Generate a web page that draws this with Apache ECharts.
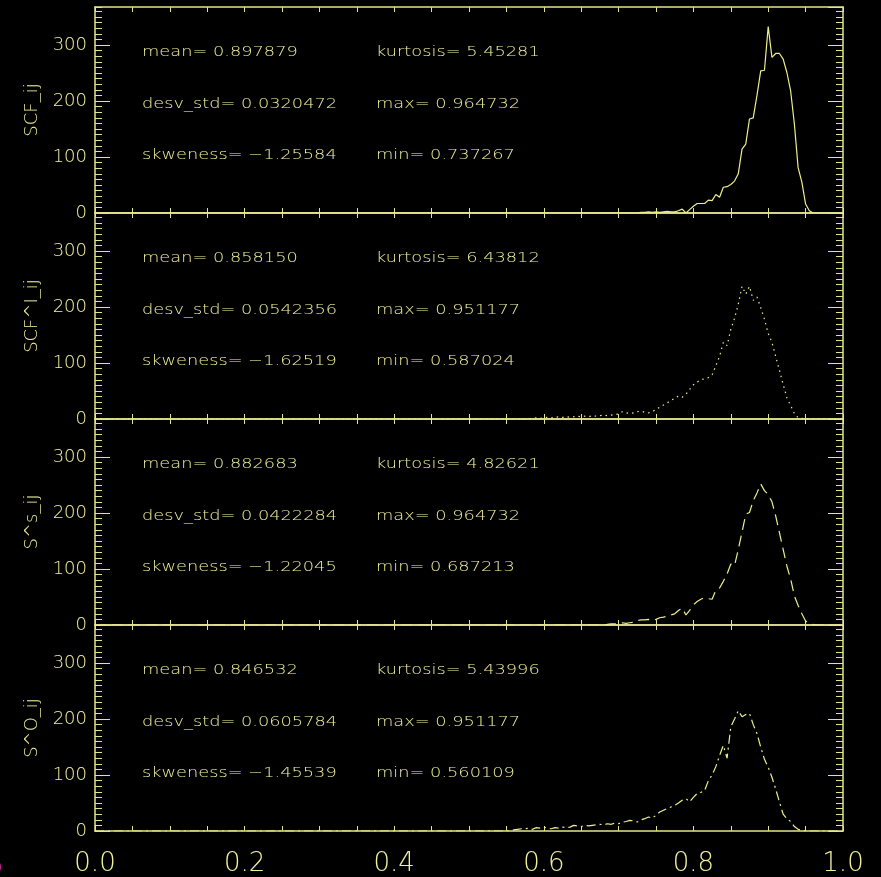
<!DOCTYPE html>
<html>
<head>
<meta charset="utf-8">
<script src="https://cdn.jsdelivr.net/npm/echarts@6/dist/echarts.min.js"></script>
<style>
html,body{margin:0;padding:0;background:#000;}
#c{width:881px;height:877px;}
</style>
</head>
<body>
<div id="c"></div>
<script>
// ---------------- data ----------------
const binStep = 0.005;
const xTickLabels = ['0.0','0.2','0.4','0.6','0.8','1.0'];
const yTickLabels = ['0','100','200','300'];
const panelNames = ['SCF_ij', 'SCF^I_ij', 'S^s_ij', 'S^O_ij'];

// histogram counts, first value at the given start bin, step 0.005
const scfStart = 0.725;
const scfCounts = [0,1,1,2,1,2,1,2,3,2,2,4,7,0,6,12,17,17,17,23,22,33,28,46,47,51,57,70,114,123,168,170,210,254,255,333,278,285,285,275,251,218,159,81,55,16,4,0];

const scfIStart = 0.58;
const scfICounts = [0,1,2,1,2,3,2,3,4,3,4,3,4,5,4,5,4,6,5,6,7,6,7,8,9,13,11,10,11,13,14,12,11,13,17,21,25,29,33,37,41,39,44,53,61,66,70,72,74,79,95,112,137,131,160,180,205,237,223,237,212,218,199,178,153,137,112,87,62,38,24,10,2,1,0];

const ssStart = 0.68;
const ssCounts = [0,1,2,2,3,4,3,4,5,8,9,9,10,8,10,13,14,16,18,20,26,30,18,26,36,42,46,49,47,46,62,66,78,91,109,106,135,166,198,201,222,236,252,240,233,220,195,165,135,105,82,52,35,20,7,3,1,0];

const soStart = 0.555;
const soCounts = [0,2,3,4,4,5,3,6,5,7,5,4,6,5,7,6,7,10,9,8,10,9,10,11,12,11,13,12,14,13,16,17,19,18,16,20,22,25,23,28,34,37,40,43,46,50,55,58,52,60,67,69,72,90,100,115,135,153,130,186,200,215,204,208,210,190,174,150,128,114,96,75,52,30,22,17,8,3,1,0];

const statMean = ['0.897879','0.858150','0.882683','0.846532'];
const statStd  = ['0.0320472','0.0542356','0.0422284','0.0605784'];
const statSkew = ['\u22121.25584','\u22121.62519','\u22121.22045','\u22121.45539'];
const statKurt = ['5.45281','6.43812','4.82621','5.43996'];
const statMax  = ['0.964732','0.951177','0.964732','0.951177'];
const statMin  = ['0.737267','0.587024','0.687213','0.560109'];

// ---------------- chart ----------------
const FG = '#e4e48e';
const TXT = '#f2f29c';
const LINE = '#eeee8a';
const FONT = 'DejaVu Sans';
const FW = 200;
const gridLeft = 95, gridW = 748, gridTop0 = 7, gridH = 206;

function toPairs(start, counts) {
  const pts = [[0, 0]];
  counts.forEach((c, i) => pts.push([+(start + i * binStep).toFixed(3), c]));
  pts.push([1, 0]);
  return pts;
}
const seriesData = [
  toPairs(scfStart, scfCounts),
  toPairs(scfIStart, scfICounts),
  toPairs(ssStart, ssCounts),
  toPairs(soStart, soCounts)
];
const lineTypes = ['solid', [1.5, 4], [11, 6], [9, 4, 2, 4]];

const grids = [], xAxes = [], yAxes = [], series = [], graphics = [];
const YMAX = 368;

for (let p = 0; p < 4; p++) {
  grids.push({left: gridLeft, top: gridTop0 + p * gridH, width: gridW, height: gridH, containLabel: false});
  const isLast = p === 3;
  // bottom x axis
  xAxes.push({
    type: 'value', gridIndex: p, position: 'bottom', min: 0, max: 1, interval: 0.05,
    axisLine: {show: true, onZero: false, lineStyle: {color: FG, width: 1.5}},
    axisTick: {show: true, inside: true, length: 5, lineStyle: {color: FG}},
    splitLine: {show: false},
    axisLabel: {
      show: isLast, color: TXT, fontFamily: FONT, fontWeight: FW, fontSize: 26, margin: 20,
      formatter: function (v) {
        const k = Math.round(v * 5);
        return Math.abs(v * 5 - k) < 1e-6 ? xTickLabels[k] : '';
      }
    }
  });
  // top x axis (ticks only)
  xAxes.push({
    type: 'value', gridIndex: p, position: 'top', min: 0, max: 1, interval: 0.05,
    axisLine: {show: true, onZero: false, lineStyle: {color: FG, width: 1.5}},
    axisTick: {show: true, inside: true, length: 5, lineStyle: {color: FG}},
    splitLine: {show: false}, axisLabel: {show: false}
  });
  // left major
  yAxes.push({
    type: 'value', gridIndex: p, position: 'left', min: 0, max: YMAX, interval: 100,
    name: panelNames[p], nameLocation: 'middle', nameGap: 50,
    nameTextStyle: {color: TXT, fontFamily: FONT, fontWeight: FW, fontSize: 18},
    axisLine: {show: true, onZero: false, lineStyle: {color: FG, width: 1.5}},
    axisTick: {show: true, inside: true, length: 15, lineStyle: {color: FG}},
    splitLine: {show: false},
    axisLabel: {show: true, color: TXT, fontFamily: FONT, fontWeight: FW, fontSize: 18, margin: 8, showMaxLabel: false,
      formatter: function (v) { const k = Math.round(v / 100); return (Math.abs(v - k * 100) < 1e-6 && k < yTickLabels.length) ? yTickLabels[k] : ''; }}
  });
  // left minor
  yAxes.push({
    type: 'value', gridIndex: p, position: 'left', min: 0, max: YMAX, interval: 10,
    axisLine: {show: false, onZero: false}, axisTick: {show: true, inside: true, length: 7, lineStyle: {color: FG}},
    splitLine: {show: false}, axisLabel: {show: false}
  });
  // right major
  yAxes.push({
    type: 'value', gridIndex: p, position: 'right', min: 0, max: YMAX, interval: 100,
    axisLine: {show: true, onZero: false, lineStyle: {color: FG, width: 1.5}},
    axisTick: {show: true, inside: true, length: 15, lineStyle: {color: FG}},
    splitLine: {show: false}, axisLabel: {show: false}
  });
  // right minor
  yAxes.push({
    type: 'value', gridIndex: p, position: 'right', min: 0, max: YMAX, interval: 10,
    axisLine: {show: false, onZero: false}, axisTick: {show: true, inside: true, length: 7, lineStyle: {color: FG}},
    splitLine: {show: false}, axisLabel: {show: false}
  });

  series.push({
    type: 'line', xAxisIndex: p * 2, yAxisIndex: p * 4,
    data: seriesData[p], showSymbol: false, symbol: 'none', animation: false,
    lineStyle: {color: LINE, width: 1.2, type: lineTypes[p]}
  });

  const top = gridTop0 + p * gridH;
  const rows = [
    ['mean= ' + statMean[p], 'kurtosis= ' + statKurt[p]],
    ['desv_std= ' + statStd[p], 'max= ' + statMax[p]],
    ['skweness= ' + statSkew[p], 'min= ' + statMin[p]]
  ];
  const rowOff = [45, 97, 148];
  rows.forEach((r, i) => {
    [142, 376].forEach((x, j) => {
      graphics.push({
        type: 'text', x: x, y: top + rowOff[i], scaleX: 1.27, silent: true,
        style: {text: r[j], fill: TXT, fontFamily: FONT, fontWeight: FW, fontSize: 14, verticalAlign: 'middle', align: 'left'}
      });
    });
  });
}
// clipped magenta glyph at the bottom-left edge
graphics.push({type: 'text', x: -13, y: 869, silent: true,
  style: {text: 'O', fill: '#c0208c', fontFamily: FONT, fontWeight: FW, fontSize: 20, verticalAlign: 'middle'}});

const chart = echarts.init(document.getElementById('c'), null, {renderer: 'canvas'});
chart.setOption({
  backgroundColor: '#000000',
  animation: false,
  grid: grids,
  xAxis: xAxes,
  yAxis: yAxes,
  series: series,
  graphic: graphics
});
</script>
</body>
</html>
